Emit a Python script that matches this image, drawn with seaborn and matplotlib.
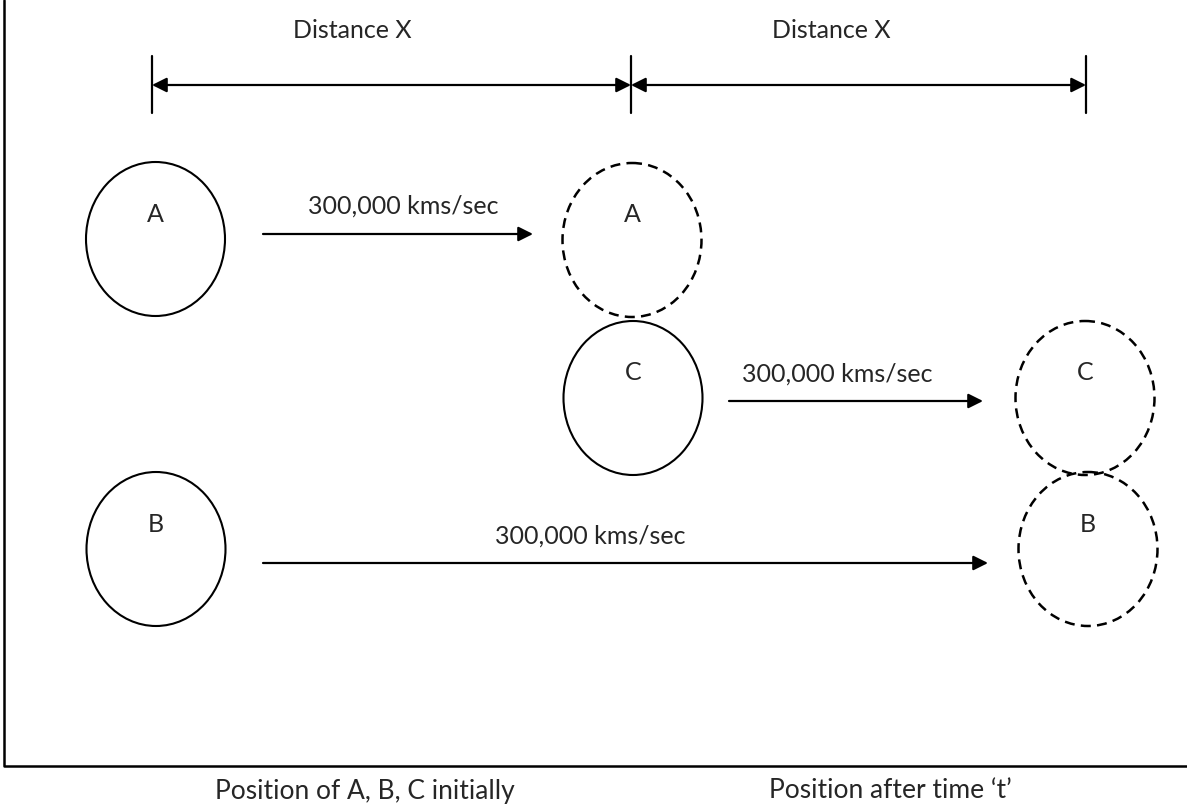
import matplotlib
matplotlib.use("Agg")
import matplotlib.pyplot as plt
import seaborn as sns
from matplotlib.patches import Ellipse

# Diagram data (pixel coordinates, y downwards)
circle_labels = ["A", "A", "C", "C", "B", "B"]
circle_x = [155.5, 632, 633, 1085, 156, 1088]
circle_y = [239, 240, 398, 398, 549, 549]
circle_dashed = [False, True, False, True, False, True]

speed_label = "300,000 kms/sec"
arrow_x0 = [263, 729, 263]
arrow_x1 = [533, 983, 988]
arrow_y = [234, 401, 563]
speed_text_x = [403, 837, 590]
speed_text_y = [206, 374, 536]

tick_x = [152, 631, 1086]
dist_labels = ["Distance X", "Distance X"]
dist_label_x = [352, 831]

bottom_labels = ["Position of A, B, C initially", "Position after time \u2018t\u2019"]
bottom_label_x = [215, 1012]
bottom_label_ha = ["left", "right"]

sns.set_style("white")
plt.rcParams["font.family"] = ["Lato", "DejaVu Sans"]

fig = plt.figure(figsize=(11.87, 8.10), dpi=100)
ax = fig.add_axes([0, 0, 1, 1])
ax.set_xlim(0, 1187)
ax.set_ylim(810, 0)
ax.axis("off")

# frame lines (left and bottom)
sns.lineplot(x=[4, 4, 1187], y=[0, 766, 766], sort=False, color="black",
             lw=1.8, ax=ax, estimator=None)

# distance ticks
for x in tick_x:
    ax.plot([x, x], [56, 113], color="black", lw=1.6)

# distance arrows (double headed)
for i in range(2):
    ax.annotate("", xy=(tick_x[i], 85), xytext=(tick_x[i + 1], 85),
                arrowprops=dict(arrowstyle="<|-|>", color="black", lw=1.6,
                                mutation_scale=22, shrinkA=0, shrinkB=0))
    ax.text(dist_label_x[i], 30, dist_labels[i], ha="center", va="center",
            fontsize=18)

# circles
for lab, cx, cy, dashed in zip(circle_labels, circle_x, circle_y, circle_dashed):
    ls = (0, (4, 2.5)) if dashed else "-"
    lw = 1.8 if dashed else 1.5
    ax.add_patch(Ellipse((cx, cy), 139, 154, fill=False, edgecolor="black",
                         lw=lw, linestyle=ls))
    ax.text(cx, cy - 25, lab, ha="center", va="center", fontsize=18)

# velocity arrows
for x0, x1, y, tx, ty in zip(arrow_x0, arrow_x1, arrow_y, speed_text_x, speed_text_y):
    ax.annotate("", xy=(x1, y), xytext=(x0, y),
                arrowprops=dict(arrowstyle="-|>", color="black", lw=1.6,
                                mutation_scale=22, shrinkA=0, shrinkB=0))
    ax.text(tx, ty, speed_label, ha="center", va="center", fontsize=18)

# bottom captions
for lab, x, ha in zip(bottom_labels, bottom_label_x, bottom_label_ha):
    ax.text(x, 791, lab, ha=ha, va="center", fontsize=19)

fig.savefig("out.png", dpi=100, facecolor="white")
